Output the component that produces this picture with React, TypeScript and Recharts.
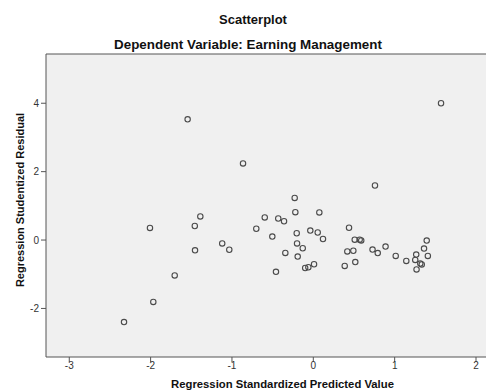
import React from "react";
import { ScatterChart, Scatter, XAxis, YAxis, CartesianGrid, ReferenceLine } from "recharts";

const predicted = [
  1.57, -1.545, -0.864, 0.758, -0.229, -0.221, 0.074, -1.389, -0.597, -0.431,
  -0.36, -2.008, -1.457, -0.701, 0.439, -0.037, 0.054, -0.504, -0.204, 0.119,
  0.509, 0.57, 0.589, 1.394, -1.12, -0.2, -1.033, -1.454, -0.13, -0.344,
  -0.192, 0.418, 0.492, 0.728, 0.792, 0.888, 1.013, 1.143, 1.265, 1.253,
  1.315, 1.333, 1.269, 1.361, 1.408, 0.386, 0.516, -0.1, -0.061, 0.009,
  -0.459, -1.704, -1.967, -2.327,
];
const residual = [
  4.0, 3.53, 2.24, 1.595, 1.232, 0.814, 0.808, 0.69, 0.66, 0.63,
  0.55, 0.354, 0.41, 0.33, 0.36, 0.278, 0.22, 0.1, 0.199, 0.03,
  0.01, 0.01, -0.01, -0.015, -0.1, -0.1, -0.284, -0.3, -0.24, -0.377,
  -0.483, -0.334, -0.313, -0.278, -0.38, -0.19, -0.465, -0.61, -0.424, -0.582,
  -0.688, -0.714, -0.86, -0.249, -0.465, -0.758, -0.644, -0.817, -0.796, -0.708,
  -0.928, -1.036, -1.81, -2.4,
];
const xTicks = [-3, -2, -1, 0, 1, 2];
const yTicks = [-2, 0, 2, 4];
const xDomain = [-3.286, 2.172];
const yDomain = [-3.42, 5.44];

const data = predicted.map((x, i) => ({ x, y: residual[i] }));

const FONT = "'Liberation Sans', Arial, sans-serif";

const Ring = (props: any) => {
  const { cx, cy } = props;
  if (cx == null || cy == null) return <g />;
  return <circle cx={cx} cy={cy} r={2.7} fill="none" stroke="#4a4a4a" strokeWidth={1.1} />;
};

export default function App() {
  return (
    <div style={{ position: "absolute", left: 0, top: 0, width: 486, height: 392, overflow: "hidden", background: "#fff" }}>
      <ScatterChart width={520} height={392} margin={{ top: 54, right: 30, bottom: 0, left: 0 }}>
        <CartesianGrid horizontal={false} vertical={false} fill="#F0F0F0" />
        <XAxis
          type="number"
          dataKey="x"
          domain={xDomain}
          ticks={xTicks}
          allowDataOverflow
          height={35}
          tickSize={5}
          tickMargin={0}
          stroke="#555"
          tick={{ fontSize: 10, fontFamily: FONT, fill: "#333" }}
        />
        <YAxis
          type="number"
          dataKey="y"
          domain={yDomain}
          ticks={yTicks}
          allowDataOverflow
          width={46}
          tickSize={5}
          tickMargin={2}
          stroke="#555"
          tick={{ fontSize: 10, fontFamily: FONT, fill: "#333" }}
        />
        <ReferenceLine y={yDomain[1]} stroke="#555" strokeWidth={1} />
        <Scatter data={data} isAnimationActive={false} shape={Ring} />
      </ScatterChart>
      <svg width={486} height={392} style={{ position: "absolute", left: 0, top: 0, pointerEvents: "none" }}>
        <g fontFamily={FONT} fontWeight="bold" fill="#111">
          <text x={253} y={24} fontSize={13} textAnchor="middle">Scatterplot</text>
          <text x={248} y={49} fontSize={13.4} textAnchor="middle">Dependent Variable: Earning Management</text>
          <text x={282.5} y={388} fontSize={11.3} textAnchor="middle">Regression Standardized Predicted Value</text>
          <text x={24} y={200} fontSize={11} textAnchor="middle" transform="rotate(-90 24 200)">Regression Studentized Residual</text>
        </g>
      </svg>
    </div>
  );
}
